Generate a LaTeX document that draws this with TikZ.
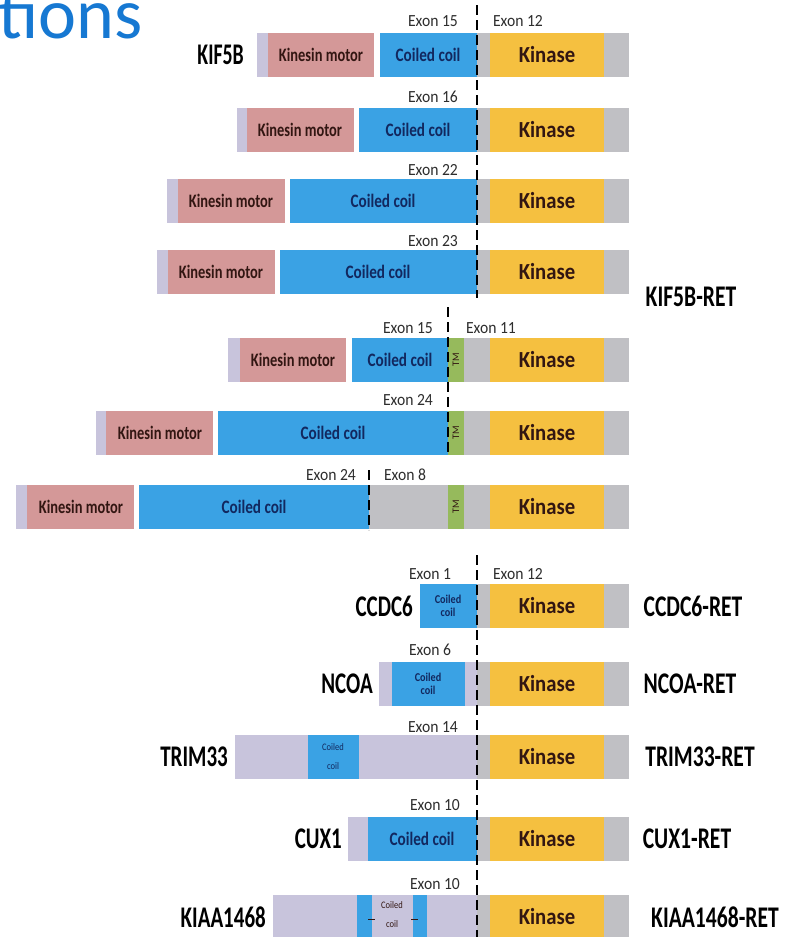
\documentclass[tikz,border=0pt]{standalone}
\usepackage{fontspec}
\setmainfont{Carlito}
\usepackage{graphicx}
\definecolor{lavc}{RGB}{200,196,220}
\definecolor{pinkc}{RGB}{212,152,152}
\definecolor{bluec}{RGB}{58,162,228}
\definecolor{grayc}{RGB}{192,192,196}
\definecolor{kinc}{RGB}{245,192,64}
\definecolor{tmc}{RGB}{150,186,92}
\definecolor{titlec}{RGB}{22,120,210}
\definecolor{navyc}{RGB}{18,40,95}
\definecolor{brownc}{RGB}{50,22,18}
\definecolor{exonc}{RGB}{45,45,45}
% horizontal squeeze of a text
\newcommand\sx[2]{\scalebox{#1}[1]{#2}}
% one filled stretch of a protein bar: colour, left x, right x, row centre
\newcommand\seg[4]{\fill[#1] (#2,{#4-22}) rectangle (#3,{#4+22});}
% RET part: grey tail with the kinase domain
\newcommand\retpart[3]{%
  \fill[grayc] (#1,{#2-22}) rectangle (629,{#2+22});
  \fill[kinc] (490,{#2-22}) rectangle (604,{#2+22});
  \node[kintext] (#3) at (547,#2) {\sx{0.9}{Kinase}};}
\begin{document}
\begin{tikzpicture}[x=1pt,y=-1pt,
  gene/.style={font=\fontsize{30}{30}\bfseries\selectfont, text=black, inner sep=0pt},
  kintext/.style={font=\fontsize{23}{23}\bfseries\selectfont, text=brownc, inner sep=0pt},
  motortext/.style={font=\fontsize{19}{19}\bfseries\selectfont, text=brownc, inner sep=0pt},
  cctext/.style={font=\fontsize{19}{19}\bfseries\selectfont, text=navyc, inner sep=0pt},
  smallcc/.style={font=\fontsize{12}{13}\bfseries\selectfont, text=navyc, inner sep=0pt, align=center},
  tinycc/.style={font=\fontsize{10}{19}\selectfont, text=navyc, inner sep=0pt, align=center},
  exon/.style={font=\fontsize{17}{17}\selectfont, text=exonc, inner sep=0pt},
  tm/.style={font=\fontsize{10}{10}\selectfont, text=brownc, inner sep=0pt, rotate=90},
  junction/.style={line width=2.5pt, dash pattern=on 10pt off 5pt, black}]
\useasboundingbox (0,0) rectangle (796,937);
\clip (0,0) rectangle (796,937);
\fill[white] (0,0) rectangle (796,937);

% slide title, cut by the top edge
\node[anchor=base west, inner sep=0pt, text=titlec, font=\fontsize{72}{72}\selectfont] (title) at (-2,38) {tions};

% ---------- KIF5B-RET variants ----------
% row 1
\seg{lavc}{257}{268}{55}\seg{pinkc}{268}{374}{55}\seg{bluec}{380}{477}{55}
\retpart{477}{55}{kz1}
\node[motortext] (m1) at (321,55) {\sx{0.76}{Kinesin motor}};
\node[cctext] (c1) at (428,55) {\sx{0.8}{Coiled coil}};
\node[gene, anchor=east] (kif) at (244,55) {\sx{0.66}{KIF5B}};
\node[exon] (e1a) at (433,21) {\sx{0.92}{Exon 15}};
\node[exon] (e1b) at (518,21) {\sx{0.92}{Exon 12}};
% row 2
\seg{lavc}{237}{247}{130}\seg{pinkc}{247}{354}{130}\seg{bluec}{359}{477}{130}
\retpart{477}{130}{kz2}
\node[motortext] (m2) at (300,130) {\sx{0.76}{Kinesin motor}};
\node[cctext] (c2) at (418,130) {\sx{0.8}{Coiled coil}};
\node[exon] (e2) at (433,97) {\sx{0.92}{Exon 16}};
% row 3
\seg{lavc}{167}{178}{201}\seg{pinkc}{178}{285}{201}\seg{bluec}{290}{477}{201}
\retpart{477}{201}{kz3}
\node[motortext] (m3) at (231,201) {\sx{0.76}{Kinesin motor}};
\node[cctext] (c3) at (383,201) {\sx{0.8}{Coiled coil}};
\node[exon] (e3) at (433,170) {\sx{0.92}{Exon 22}};
% row 4
\seg{lavc}{157}{168}{272}\seg{pinkc}{168}{275}{272}\seg{bluec}{280}{477}{272}
\retpart{477}{272}{kz4}
\node[motortext] (m4) at (221,272) {\sx{0.76}{Kinesin motor}};
\node[cctext] (c4) at (378,272) {\sx{0.8}{Coiled coil}};
\node[exon] (e4) at (433,241) {\sx{0.92}{Exon 23}};
\node[gene] (kifret) at (691,297) {\sx{0.72}{KIF5B-RET}};
% row 5
\seg{lavc}{228}{240}{360}\seg{pinkc}{240}{346}{360}\seg{bluec}{352}{448}{360}
\retpart{448}{360}{kz5}
\seg{tmc}{448}{464}{360}
\node[tm] (tm5) at (456,360) {TM};
\node[motortext] (m5) at (293,360) {\sx{0.76}{Kinesin motor}};
\node[cctext] (c5) at (400,360) {\sx{0.8}{Coiled coil}};
\node[exon] (e5a) at (408,328) {\sx{0.92}{Exon 15}};
\node[exon] (e5b) at (491,328) {\sx{0.92}{Exon 11}};
% row 6
\seg{lavc}{96}{106}{433}\seg{pinkc}{106}{213}{433}\seg{bluec}{218}{448}{433}
\retpart{448}{433}{kz6}
\seg{tmc}{448}{464}{433}
\node[tm] (tm6) at (456,433) {TM};
\node[motortext] (m6) at (160,433) {\sx{0.76}{Kinesin motor}};
\node[cctext] (c6) at (333,433) {\sx{0.8}{Coiled coil}};
\node[exon] (e6) at (408,400) {\sx{0.92}{Exon 24}};
% row 7
\seg{lavc}{16}{27}{507}\seg{pinkc}{27}{134}{507}\seg{bluec}{139}{369}{507}
\retpart{369}{507}{kz7}
\seg{tmc}{448}{464}{507}
\node[tm] (tm7) at (456,507) {TM};
\node[motortext] (m7) at (81,507) {\sx{0.76}{Kinesin motor}};
\node[cctext] (c7) at (254,507) {\sx{0.8}{Coiled coil}};
\node[exon] (e7a) at (331,475) {\sx{0.92}{Exon 24}};
\node[exon] (e7b) at (405,475) {\sx{0.92}{Exon 8}};

% ---------- other partners ----------
% CCDC6
\seg{bluec}{420}{477}{606}
\retpart{477}{606}{kz8}
\node[smallcc] (c8) at (448,606) {\sx{0.85}{Coiled}\\\sx{0.85}{coil}};
\node[gene, anchor=east] (ccdc) at (413,606) {\sx{0.7}{CCDC6}};
\node[gene] (ccdcret) at (693,606) {\sx{0.72}{CCDC6-RET}};
\node[exon] (e8a) at (430,574) {\sx{0.92}{Exon 1}};
\node[exon] (e8b) at (518,574) {\sx{0.92}{Exon 12}};
% NCOA
\seg{lavc}{379}{477}{684}\seg{bluec}{392}{465}{684}
\retpart{477}{684}{kz9}
\node[smallcc] (c9) at (428,684) {\sx{0.85}{Coiled}\\\sx{0.85}{coil}};
\node[gene, anchor=east] (ncoa) at (373,684) {\sx{0.7}{NCOA}};
\node[gene] (ncoaret) at (690,684) {\sx{0.72}{NCOA-RET}};
\node[exon] (e9) at (430,650) {\sx{0.92}{Exon 6}};
% TRIM33
\seg{lavc}{235}{477}{757}\seg{bluec}{308}{359}{757}
\retpart{477}{757}{kz10}
\node[tinycc] (c10) at (333,757) {\sx{0.85}{Coiled}\\\sx{0.85}{coil}};
\node[gene, anchor=east] (trim) at (228,757) {\sx{0.7}{TRIM33}};
\node[gene] (trimret) at (700,757) {\sx{0.72}{TRIM33-RET}};
\node[exon] (e10) at (433,727) {\sx{0.92}{Exon 14}};
% CUX1
\seg{lavc}{348}{477}{839}\seg{bluec}{368}{477}{839}
\retpart{477}{839}{kz11}
\node[cctext] (c11) at (422,839) {\sx{0.8}{Coiled coil}};
\node[gene, anchor=east] (cux) at (342,839) {\sx{0.7}{CUX1}};
\node[gene] (cuxret) at (687,839) {\sx{0.72}{CUX1-RET}};
\node[exon] (e11) at (435,805) {\sx{0.92}{Exon 10}};
% KIAA1468
\seg{lavc}{273}{477}{917}\seg{bluec}{357}{372}{917}\seg{bluec}{413}{427}{917}
\retpart{477}{917}{kz12}
\node[tinycc, text=brownc] (c12) at (392,915) {\sx{0.85}{Coiled}\\\sx{0.85}{coil}};
\draw[brownc, line width=1pt] (368,919) -- (375,919) (411,919) -- (418,919);
\node[gene, anchor=east] (kiaa) at (266,917) {\sx{0.7}{KIAA1468}};
\node[gene] (kiaaret) at (715,917) {\sx{0.72}{KIAA1468-RET}};
\node[exon] (e12) at (435,884) {\sx{0.92}{Exon 10}};

% ---------- fusion junctions ----------
\coordinate (jtop) at (477,5);
\coordinate (jmid) at (477,298);
\coordinate (jlow) at (477,555);
\coordinate (jend) at (477,940);
\coordinate (jb1) at (448,307);
\coordinate (jb2) at (448,456);
\coordinate (jc1) at (369,470);
\coordinate (jc2) at (369,530);
\draw[junction] (jtop) -- (jmid);
\draw[junction] (jlow) -- (jend);
\draw[junction] (jb1) -- (jb2);
\draw[junction] (jc1) -- (jc2);
\end{tikzpicture}
\end{document}
